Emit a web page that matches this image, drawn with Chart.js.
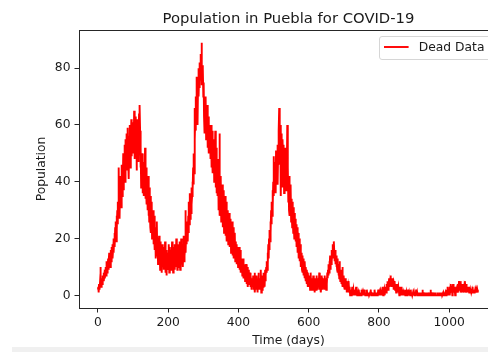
<!DOCTYPE html>
<html><head><meta charset="utf-8">
<script src="https://cdn.jsdelivr.net/npm/chart.js@4/dist/chart.umd.min.js"></script>
<style>
html,body{margin:0;padding:0;overflow:hidden;background:#fff;width:488px;height:352px;}
#wrap{position:relative;width:488px;height:352px;overflow:hidden;}
canvas{position:absolute;left:0;top:0;}
#strip{position:absolute;left:12px;top:347px;width:476px;height:5px;background:#f0f0f0;}
</style></head><body>
<div id="wrap"><canvas id="c" width="520" height="352"></canvas><div id="strip"></div></div>
<script>
const chartTitle = 'Population in Puebla for COVID-19';
const xAxisLabel = 'Time (days)';
const yAxisLabel = 'Population';
const seriesLabel = 'Dead Data';
const xTicks = [0, 200, 400, 600, 800, 1000];
const yTicks = [0, 20, 40, 60, 80];
// daily deaths, day 0 .. day 1082
const deadData = [
2,3,1,4,3,2,5,10,4,3,6,5,4,7,5,6,8,5,7,9,
6,8,10,7,9,12,8,11,10,13,9,12,15,11,14,10,13,16,12,17,
14,18,13,16,20,15,19,22,17,24,20,26,19,28,23,30,25,33,28,45,
30,36,27,40,34,42,31,38,46,35,44,39,50,37,48,43,53,40,55,47,
51,44,57,46,52,59,48,54,41,56,50,60,45,58,53,62,49,57,52,61,
55,59,50,65,54,48,58,63,52,60,44,57,62,51,59,47,55,64,50,67,
58,45,52,38,48,42,50,36,44,40,47,35,43,38,52,34,41,37,45,32,
39,30,36,42,28,34,26,38,31,24,35,22,29,33,20,27,23,30,18,25,
21,28,16,24,19,13,22,17,26,14,20,11,18,15,21,12,17,9,19,14,
11,16,8,18,13,10,17,12,9,15,11,19,8,14,12,7,16,10,13,9,
15,11,18,8,13,17,10,14,9,16,12,19,10,15,8,17,13,11,18,9,
14,16,10,20,12,15,9,18,13,11,17,10,19,14,9,16,12,20,11,15,
13,18,10,16,21,12,19,14,17,30,15,22,18,26,20,24,19,28,22,33,
25,30,36,27,34,29,38,32,35,40,37,45,39,50,43,66,55,62,58,70,
64,77,68,72,60,75,80,70,78,73,82,76,85,79,83,89,74,81,77,80,
70,75,63,68,57,66,61,70,55,64,59,67,52,62,57,63,50,60,55,58,
48,56,60,45,53,49,58,43,51,46,55,40,50,44,58,38,47,52,36,45,
42,35,48,30,40,38,57,28,36,33,42,26,35,30,39,24,33,28,37,22,
31,27,35,21,29,25,33,19,28,23,30,18,26,22,29,17,24,20,27,15,
23,19,26,14,21,17,24,13,20,16,22,12,19,15,18,11,17,13,16,10,
15,12,17,9,14,11,16,8,13,10,12,7,11,9,13,6,10,8,11,5,
9,7,11,4,8,6,10,3,7,5,9,4,6,8,3,7,5,2,6,4,
5,3,7,2,6,4,8,1,5,3,6,2,7,4,1,5,3,8,2,4,
6,2,5,3,9,1,4,6,2,7,3,5,8,4,6,3,9,5,7,10,
8,12,9,15,11,18,13,20,16,23,19,26,22,30,25,33,28,37,31,40,
35,49,38,44,40,47,36,51,42,48,45,53,39,50,46,58,66,55,48,60,
52,35,57,44,50,38,55,47,41,53,36,49,43,52,40,47,37,44,42,60,
38,45,33,40,30,42,28,36,32,39,26,34,30,24,33,28,22,31,25,20,
29,23,27,19,25,21,17,24,20,15,22,18,13,20,16,12,18,14,10,15,
12,9,14,8,11,13,7,10,6,12,8,5,10,7,4,9,6,3,8,5,
4,7,3,6,2,5,8,3,4,6,2,5,3,7,2,4,6,1,5,3,
6,2,4,7,3,5,2,6,4,3,8,2,5,3,6,1,4,7,3,5,
2,4,6,3,5,2,7,4,3,6,2,5,4,8,6,9,7,11,8,12,
10,14,9,13,11,16,12,15,18,13,17,14,19,15,12,16,13,11,14,10,
12,9,13,8,11,7,10,6,12,8,5,9,7,4,8,5,10,3,6,4,
7,3,5,2,6,4,2,5,3,1,4,2,3,1,5,2,1,3,0,2,
1,0,2,1,3,0,1,2,0,1,0,2,1,0,1,3,0,1,0,1,
0,1,0,2,0,1,0,0,1,0,2,0,1,0,0,1,0,0,2,0,
1,0,0,1,0,0,2,0,1,0,0,1,0,0,0,1,0,2,0,0,
1,0,0,1,0,1,0,0,2,0,1,0,0,1,0,0,1,0,2,1,
0,1,2,0,1,0,1,2,0,1,3,1,0,2,1,2,0,3,1,2,
3,1,4,2,3,5,2,4,3,6,4,3,5,7,4,6,3,5,4,6,
3,5,2,4,3,5,2,3,4,1,3,2,4,1,2,3,1,2,0,3,
1,2,0,1,3,0,1,2,0,1,0,2,1,0,1,0,2,0,1,0,
0,1,0,2,0,0,1,0,1,0,0,2,0,0,1,0,0,1,0,0,
1,0,0,0,1,0,2,0,0,1,0,0,0,1,0,0,1,0,0,0,
0,1,0,0,2,0,0,0,1,0,0,0,0,1,0,0,0,0,1,0,
0,0,1,0,0,0,0,2,0,0,0,1,0,0,0,0,1,0,0,0,
0,1,0,0,0,0,0,1,0,0,0,0,0,1,0,0,0,0,0,1,
0,0,0,1,0,0,0,0,0,1,0,0,2,0,1,0,3,1,0,2,
1,3,0,2,1,4,2,1,3,0,2,4,1,3,2,1,3,0,2,1,
2,1,3,2,4,1,2,3,5,2,4,3,1,5,2,3,1,4,2,3,
2,4,1,3,2,5,3,1,2,4,1,3,2,1,3,1,2,1,3,1,
2,1,2,1,1,2,1,3,1,2,1,1,2,1,2,1,1,2,1,1,
2,1,1
];

const FONT = '"DejaVu Sans", "Liberation Sans", sans-serif';
const TXT = '#1a1a1a';

const decor = {
  id: 'decor',
  afterDraw(chart) {
    const {ctx, chartArea: a} = chart;
    ctx.save();
    // top and right spines
    ctx.strokeStyle = '#262626';
    ctx.lineWidth = 1;
    ctx.beginPath();
    ctx.moveTo(a.left, Math.round(a.top) + 0.5);
    ctx.lineTo(a.right, Math.round(a.top) + 0.5);
    ctx.lineTo(a.right, a.bottom);
    ctx.stroke();
    // title
    ctx.fillStyle = TXT;
    ctx.font = '14.8px ' + FONT;
    ctx.textAlign = 'center';
    ctx.textBaseline = 'alphabetic';
    ctx.fillText(chartTitle, (a.left + a.right) / 2, 23);
    // legend
    const ds = chart.data.datasets[0];
    const bx = 379.5, by = 36.5, bw = 113, bh = 23, r = 2.5;
    ctx.beginPath();
    ctx.moveTo(bx + r, by);
    ctx.lineTo(bx + bw - r, by);
    ctx.arcTo(bx + bw, by, bx + bw, by + r, r);
    ctx.lineTo(bx + bw, by + bh - r);
    ctx.arcTo(bx + bw, by + bh, bx + bw - r, by + bh, r);
    ctx.lineTo(bx + r, by + bh);
    ctx.arcTo(bx, by + bh, bx, by + bh - r, r);
    ctx.lineTo(bx, by + r);
    ctx.arcTo(bx, by, bx + r, by, r);
    ctx.closePath();
    ctx.fillStyle = 'rgba(255,255,255,0.8)';
    ctx.fill();
    ctx.strokeStyle = '#d6d6d6';
    ctx.stroke();
    ctx.strokeStyle = ds.borderColor;
    ctx.lineWidth = ds.borderWidth;
    ctx.beginPath();
    ctx.moveTo(384, 47);
    ctx.lineTo(408.6, 47);
    ctx.stroke();
    ctx.fillStyle = TXT;
    ctx.font = '12.3px ' + FONT;
    ctx.textAlign = 'left';
    ctx.textBaseline = 'middle';
    ctx.fillText(ds.label, 418.8, 48);
    ctx.restore();
  }
};

const points = deadData.map((v, i) => ({x: i, y: v}));

new Chart(document.getElementById('c'), {
  type: 'line',
  data: {
    datasets: [{
      label: seriesLabel,
      data: points,
      borderColor: '#ff0000',
      borderWidth: 1.9,
      pointRadius: 0,
      tension: 0,
      fill: false
    }]
  },
  options: {
    responsive: false,
    animation: false,
    events: [],
    layout: {padding: {left: 0, top: 30, right: 22, bottom: 0}},
    plugins: {legend: {display: false}, title: {display: false}, tooltip: {enabled: false}},
    scales: {
      x: {
        type: 'linear',
        min: -54, max: 1139,
        afterBuildTicks: s => { s.ticks = xTicks.map(v => ({value: v})); },
        afterFit: s => { s.height = 44; },
        grid: {drawOnChartArea: false, drawTicks: true, tickLength: 4.5, tickColor: '#262626'},
        border: {display: true, color: '#262626', width: 1},
        ticks: {color: TXT, font: {family: FONT, size: 12.3}, padding: 2.5, maxRotation: 0, autoSkip: false,
                callback: v => String(v)},
        title: {display: true, text: xAxisLabel, color: TXT, font: {family: FONT, size: 12.3}, padding: {top: 0, bottom: 4}}
      },
      y: {
        type: 'linear',
        min: -4.45, max: 93.45,
        afterBuildTicks: s => { s.ticks = yTicks.map(v => ({value: v})); },
        afterFit: s => { s.width = 79; },
        grid: {drawOnChartArea: false, drawTicks: true, tickLength: 4.5, tickColor: '#262626'},
        border: {display: true, color: '#262626', width: 1},
        ticks: {color: TXT, font: {family: FONT, size: 12.3}, padding: 4, autoSkip: false,
                callback: v => String(v)},
        title: {display: true, text: yAxisLabel, color: TXT, font: {family: FONT, size: 12.3}, padding: {top: 34.4, bottom: 0}}
      }
    }
  },
  plugins: [decor]
});
</script>
</body></html>
